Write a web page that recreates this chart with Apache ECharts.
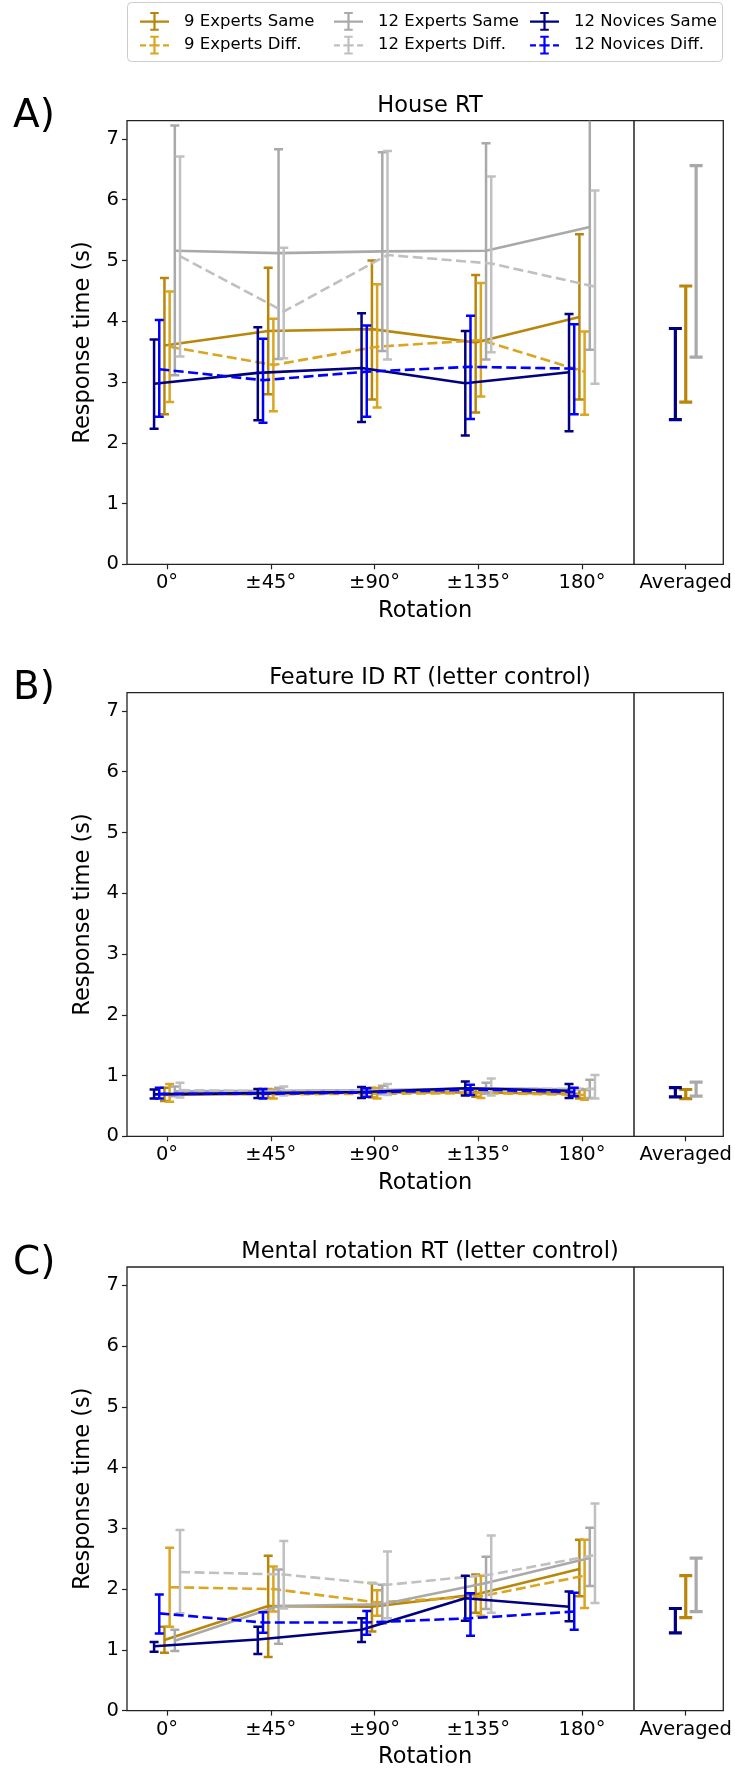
<!DOCTYPE html>
<html>
<head>
<meta charset="utf-8">
<style>
  html, body { margin: 0; padding: 0; background: #fff; }
  #chart { width: 735px; height: 1772px; }
</style>
<script src="https://cdn.jsdelivr.net/npm/echarts@6/dist/echarts.min.js"></script>
</head>
<body>
<div id="chart"></div>
<script>
// categories
const rotations = ['0°', '±45°', '±90°', '±135°', '180°']
const averagedLabel = 'Averaged'
const yTicks = [0, 1, 2, 3, 4, 5, 6, 7]
const groups = ['9 Experts Same', '9 Experts Diff.', '12 Experts Same', '12 Experts Diff.', '12 Novices Same', '12 Novices Diff.']
// averaged bars: 12 Novices, 9 Experts, 12 Experts
const avgGroups = ['12 Novices Same', '9 Experts Same', '12 Experts Same']

// House RT  (rows follow groups, columns follow rotations)
const houseMean = [
    [3.60, 3.84, 3.87, 3.65, 4.07],
    [3.58, 3.28, 3.58, 3.69, 3.17],
    [5.16, 5.12, 5.15, 5.16, 5.55],
    [5.07, 4.16, 5.09, 4.95, 4.57],
    [2.97, 3.15, 3.23, 2.98, 3.16],
    [3.21, 3.03, 3.17, 3.25, 3.22]
]
const houseLow = [
    [2.47, 2.80, 2.71, 2.50, 2.71],
    [2.67, 2.52, 2.58, 2.76, 2.46],
    [3.11, 3.38, 3.51, 3.37, 3.53],
    [3.42, 3.39, 3.37, 3.49, 2.97],
    [2.23, 2.37, 2.34, 2.12, 2.19],
    [2.43, 2.33, 2.43, 2.39, 2.47]
]
const houseHigh = [
    [4.71, 4.88, 5.00, 4.76, 5.43],
    [4.49, 4.04, 4.61, 4.63, 3.83],
    [7.22, 6.83, 6.78, 6.93, 7.60],
    [6.71, 5.21, 6.80, 6.38, 6.15],
    [3.70, 3.90, 4.13, 3.84, 4.12],
    [4.02, 3.71, 3.93, 4.09, 3.95]
]
const houseAvgLow = [2.38, 2.67, 3.41]
const houseAvgHigh = [3.88, 4.58, 6.56]

// Feature ID RT (letter control)
const featureMean = [
    [0.68, 0.70, 0.72, 0.72, 0.70],
    [0.70, 0.69, 0.70, 0.71, 0.68],
    [0.74, 0.75, 0.76, 0.79, 0.77],
    [0.76, 0.74, 0.76, 0.78, 0.78],
    [0.69, 0.71, 0.73, 0.79, 0.75],
    [0.70, 0.70, 0.72, 0.77, 0.73]
]
const featureLow = [
    [0.58, 0.63, 0.64, 0.65, 0.62],
    [0.57, 0.62, 0.62, 0.63, 0.60],
    [0.66, 0.70, 0.69, 0.70, 0.63],
    [0.64, 0.67, 0.68, 0.67, 0.62],
    [0.62, 0.63, 0.63, 0.67, 0.63],
    [0.62, 0.62, 0.65, 0.68, 0.66]
]
const featureHigh = [
    [0.80, 0.78, 0.80, 0.79, 0.78],
    [0.86, 0.77, 0.79, 0.78, 0.76],
    [0.82, 0.80, 0.83, 0.88, 0.93],
    [0.88, 0.82, 0.86, 0.95, 1.01],
    [0.77, 0.78, 0.81, 0.90, 0.86],
    [0.80, 0.78, 0.79, 0.85, 0.80]
]
const featureAvgLow = [0.65, 0.62, 0.66]
const featureAvgHigh = [0.80, 0.77, 0.89]

// Mental rotation RT (letter control)
const mentalMean = [
    [1.16, 1.72, 1.71, 1.91, 2.33],
    [2.03, 2.00, 1.78, 1.88, 2.22],
    [1.15, 1.72, 1.75, 2.10, 2.51],
    [2.28, 2.24, 2.07, 2.24, 2.56],
    [1.06, 1.17, 1.33, 1.85, 1.71],
    [1.60, 1.45, 1.45, 1.52, 1.63]
]
const mentalLow = [
    [0.95, 0.88, 1.30, 1.61, 1.88],
    [1.38, 1.63, 1.56, 1.56, 1.69],
    [0.98, 1.10, 1.43, 1.67, 2.05],
    [1.60, 1.68, 1.52, 1.61, 1.77],
    [0.97, 0.93, 1.13, 1.48, 1.47],
    [1.27, 1.28, 1.25, 1.23, 1.33]
]
const mentalHigh = [
    [1.38, 2.55, 2.10, 2.24, 2.81],
    [2.68, 2.37, 1.98, 2.22, 2.81],
    [1.33, 2.32, 2.07, 2.53, 3.01],
    [2.97, 2.79, 2.62, 2.88, 3.41],
    [1.13, 1.38, 1.52, 2.22, 1.96],
    [1.91, 1.62, 1.64, 1.93, 1.94]
]
const mentalAvgLow = [1.28, 1.53, 1.63]
const mentalAvgHigh = [1.68, 2.22, 2.51]

// styles
const FONT = 'DejaVu Sans'
const colors = ['#B8860B', '#DAA520', '#A9A9A9', '#C0C0C0', '#000080', '#0000FF']
const dashed = [false, true, false, true, false, true]
const offsets = [-0.025, 0.025, 0.075, 0.125, -0.125, -0.075]
const avgOffsets = [-0.1, 0, 0.1]
const avgPos = 5

const panels = [
    { title: 'House RT', letter: 'A)', mean: houseMean, low: houseLow, high: houseHigh, avgLow: houseAvgLow, avgHigh: houseAvgHigh, top: 120.7 },
    { title: 'Feature ID RT (letter control)', letter: 'B)', mean: featureMean, low: featureLow, high: featureHigh, avgLow: featureAvgLow, avgHigh: featureAvgHigh, top: 692.7 },
    { title: 'Mental rotation RT (letter control)', letter: 'C)', mean: mentalMean, low: mentalLow, high: mentalHigh, avgLow: mentalAvgLow, avgHigh: mentalAvgHigh, top: 1267 }
]

const GRID_LEFT = 127
const GRID_W = 596.3
const GRID_H = 443.6

const renderErrorBar = (params, api) => {
    const x = api.value(0)
    const pLo = api.coord([x, api.value(1)])
    const pHi = api.coord([x, api.value(2)])
    const big = x > 4.5
    const half = big ? 6.5 : 4.5
    const style = { stroke: api.visual('color'), lineWidth: big ? 3.2 : 2.5 }
    return {
        type: 'group',
        children: [
            { type: 'line', shape: { x1: pLo[0], y1: pLo[1], x2: pHi[0], y2: pHi[1] }, style },
            { type: 'line', shape: { x1: pLo[0] - half, y1: pLo[1], x2: pLo[0] + half, y2: pLo[1] }, style },
            { type: 'line', shape: { x1: pHi[0] - half, y1: pHi[1], x2: pHi[0] + half, y2: pHi[1] }, style }
        ]
    }
}

const grid = []
const xAxis = []
const yAxis = []
const title = []
const series = []
const graphic = []

panels.forEach((p, pi) => {
    grid.push({
        left: GRID_LEFT, top: p.top, width: GRID_W, height: GRID_H,
        show: true, borderColor: '#222', borderWidth: 1.3, backgroundColor: 'transparent'
    })
    xAxis.push({
        type: 'value', gridIndex: pi, min: -0.386, max: 5.362,
        name: 'Rotation', nameLocation: 'middle', nameGap: 35,
        nameTextStyle: { fontSize: 22.5, fontFamily: FONT, color: '#000' },
        axisLine: { show: false, onZero: false },
        axisTick: { show: true, length: 5, lineStyle: { color: '#222', width: 1.2 }, customValues: [0, 1, 2, 3, 4, 5] },
        axisLabel: {
            fontSize: 19.5, fontFamily: FONT, color: '#000', margin: 9,
            customValues: [0, 1, 2, 3, 4, 5],
            formatter: v => (Math.round(v) === avgPos ? averagedLabel : rotations[Math.round(v)])
        },
        splitLine: { show: false }
    })
    yAxis.push({
        type: 'value', gridIndex: pi, min: 0, max: 7.3, interval: 1,
        name: 'Response time (s)', nameLocation: 'middle', nameGap: 32,
        nameTextStyle: { fontSize: 22.5, fontFamily: FONT, color: '#000' },
        axisLine: { show: false, onZero: false },
        axisTick: { show: true, length: 5, lineStyle: { color: '#222', width: 1.2 }, customValues: yTicks },
        axisLabel: { fontSize: 19.5, fontFamily: FONT, color: '#000', margin: 8, customValues: yTicks },
        splitLine: { show: false }
    })
    title.push({
        text: p.title, left: 425, top: p.top - 31, textAlign: 'center',
        textStyle: { fontSize: 22.5, fontWeight: 'normal', fontFamily: FONT, color: '#000' }
    })
    graphic.push({
        type: 'text', left: 13, top: p.top - 23,
        style: { text: p.letter, fontSize: 39, fontFamily: FONT, fill: '#000' }
    })

    // separator between rotations and averaged
    series.push({
        type: 'line', xAxisIndex: pi, yAxisIndex: pi, data: [], silent: true,
        markLine: {
            silent: true, symbol: ['none', 'none'], label: { show: false },
            lineStyle: { color: '#222', width: 1.5, type: 'solid' },
            data: [{ xAxis: 4.5 }]
        }
    })

    groups.forEach((g, gi) => {
        series.push({
            name: g, type: 'line', xAxisIndex: pi, yAxisIndex: pi,
            symbol: 'none', clip: true,
            itemStyle: { color: colors[gi] },
            lineStyle: { color: colors[gi], width: 2.6, type: dashed[gi] ? [10, 4.5] : 'solid' },
            data: p.mean[gi].map((v, i) => [i + offsets[gi], v]),
            z: 2 + gi * 0.01
        })
        const bars = p.mean[gi].map((v, i) => [i + offsets[gi], p.low[gi][i], p.high[gi][i]])
        const ai = avgGroups.indexOf(g)
        if (ai >= 0) bars.push([avgPos + avgOffsets[ai], p.avgLow[ai], p.avgHigh[ai]])
        series.push({
            name: g, type: 'custom', xAxisIndex: pi, yAxisIndex: pi,
            renderItem: renderErrorBar, clip: true,
            itemStyle: { color: colors[gi] },
            encode: { x: 0, y: [1, 2] },
            data: bars,
            z: 2 + gi * 0.01
        })
    })
})

// legend handles: line + errorbar I-beam
const iconSame = 'path://M0,10H34V12.6H0Z M15.7,1H18.3V21H15.7Z M12,0H22V2.4H12Z M12,19.6H22V22H12Z'
const iconDiff = 'path://M0,10H7V12.6H0Z M27,10H34V12.6H27Z M15.7,1H18.3V21H15.7Z M12,0H22V2.4H12Z M12,19.6H22V22H12Z M11,10H15.7V12.6H11Z M18.3,10H23V12.6H18.3Z'
const legendCols = [[0, 1], [2, 3], [4, 5]]
const legendLeft = [135, 329, 525]
const legend = legendCols.map((cols, ci) => ({
    left: legendLeft[ci], top: 7, orient: 'vertical',
    itemWidth: 29, itemHeight: 19, itemGap: 5,
    itemStyle: { borderWidth: 0 },
    textStyle: { fontSize: 16.5, fontFamily: FONT, color: '#000', padding: [0, 0, 0, 10] },
    data: cols.map(gi => ({ name: groups[gi], icon: dashed[gi] ? iconDiff : iconSame }))
}))

graphic.push({
    type: 'rect', left: 127, top: 2, z: -1,
    shape: { width: 595, height: 59, r: 4 },
    style: { fill: '#fff', stroke: '#cccccc', lineWidth: 1 }
})

const chart = echarts.init(document.getElementById('chart'), null, { renderer: 'canvas' })
chart.setOption({
    backgroundColor: '#fff',
    animation: false,
    textStyle: { fontFamily: FONT },
    title,
    legend,
    grid,
    xAxis,
    yAxis,
    graphic,
    series
})
</script>
</body>
</html>
